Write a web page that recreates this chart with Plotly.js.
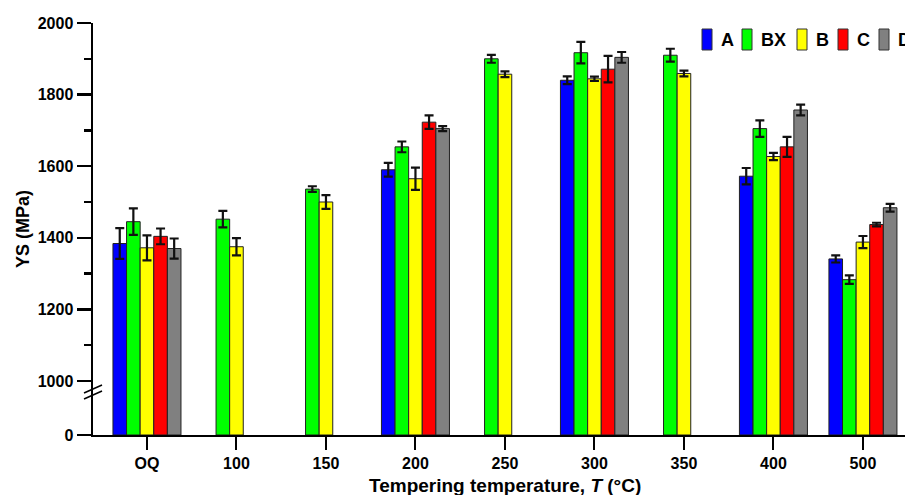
<!DOCTYPE html>
<html>
<head>
<meta charset="utf-8">
<script src="https://cdn.plot.ly/plotly-3.0.1.min.js"></script>
<style>
  html, body { margin: 0; padding: 0; background: #fff; }
  #chart { width: 905px; height: 495px; }
</style>
</head>
<body>
<div id="chart"></div>
<script>
// Yield strength (MPa) of each steel after tempering at different temperatures.
const categories = ['OQ', '100', '150', '200', '250', '300', '350', '400', '500'];

const seriesNames = ['A', 'BX', 'B', 'C', 'D'];
const seriesColors = ['#0000ff', '#00ff00', '#ffff00', '#ff0000', '#808080'];

const ysA  = [1384, null, null, 1590, null, 1840, null, 1572, 1341];
const errA = [43, null, null, 19, null, 11, null, 23, 10];

const ysBX  = [1445, 1452, 1536, 1654, 1900, 1917, 1910, 1705, 1283];
const errBX = [37, 23, 8, 15, 11, 30, 18, 23, 12];

const ysB  = [1372, 1375, 1500, 1565, 1857, 1844, 1859, 1627, 1388];
const errB = [35, 24, 19, 31, 8, 6, 8, 10, 17];

const ysC  = [1404, null, null, 1723, null, 1871, null, 1654, 1437];
const errC = [22, null, null, 19, null, 37, null, 28, 5];

const ysD  = [1370, null, null, 1705, null, 1904, null, 1757, 1484];
const errD = [28, null, null, 7, null, 15, null, 15, 11];

const yTickVals = [1000, 1200, 1400, 1600, 1800, 2000];

const seriesValues = [ysA, ysBX, ysB, ysC, ysD];
const seriesErrors = [errA, errBX, errB, errC, errD];

// Broken value axis: a short lower band holding the zero baseline,
// and the main band from just below 1000 up to 2000.
const BREAK = 0.1068;
const FONT = 'Arial, "Liberation Sans", sans-serif';

const traces = [];
seriesNames.forEach((name, i) => {
  const common = {
    type: 'bar',
    name: name,
    x: categories,
    y: seriesValues[i],
    marker: { color: seriesColors[i], line: { color: '#222', width: 1 } },
    showlegend: false,
    hoverinfo: 'x+y+name'
  };
  // lower band (baseline part of each bar)
  traces.push(Object.assign({}, common, { xaxis: 'x', yaxis: 'y' }));
  // upper band with the error bars
  traces.push(Object.assign({}, common, {
    xaxis: 'x', yaxis: 'y2',
    error_y: { type: 'data', array: seriesErrors[i], visible: true,
               color: '#111', thickness: 2.2, width: 4.5 }
  }));
});

// Legend drawn as swatches + labels along the top right.
const plotL = 93, plotW = 812, plotB = 435, plotH = 412;
const px2x = p => (p - plotL) / plotW;
const px2y = p => (plotB - p) / plotH;
const legendLeft = [702, 742, 797, 838, 879];

const shapes = [];
const annotations = [];
seriesNames.forEach((name, i) => {
  shapes.push({
    type: 'rect', xref: 'paper', yref: 'paper',
    x0: px2x(legendLeft[i]), x1: px2x(legendLeft[i] + 10),
    y0: px2y(50), y1: px2y(29),
    fillcolor: seriesColors[i], line: { color: '#333', width: 1 }
  });
  annotations.push({
    xref: 'paper', yref: 'paper', x: px2x(legendLeft[i] + 17), y: px2y(40),
    xanchor: 'left', yanchor: 'middle', showarrow: false, text: name,
    font: { family: FONT, size: 18, color: '#000', weight: 'bold' }
  });
});

// axis-break slashes
[[393, 385], [399, 391]].forEach(([ya, yb]) => {
  shapes.push({
    type: 'line', xref: 'paper', yref: 'paper',
    x0: px2x(84), y0: px2y(ya), x1: px2x(102), y1: px2y(yb),
    line: { color: '#000', width: 1.6 }
  });
});

// axis titles
annotations.push({
  xref: 'paper', yref: 'paper', x: px2x(23), y: 0.5,
  xanchor: 'center', yanchor: 'middle', textangle: -90, showarrow: false,
  text: 'YS (MPa)',
  font: { family: FONT, size: 18, color: '#000', weight: 'bold' }
});
annotations.push({
  xref: 'paper', yref: 'paper', x: px2x(505), y: px2y(485),
  xanchor: 'center', yanchor: 'middle', showarrow: false,
  text: 'Tempering temperature, <i>T</i> (°C)',
  font: { family: FONT, size: 19, color: '#000', weight: 'bold' }
});

const tickFont = { family: FONT, size: 16, color: '#000', weight: 'bold' };

const layout = {
  width: 905, height: 495, autosize: false,
  margin: { l: 93, r: 0, t: 23, b: 60 },
  paper_bgcolor: '#fff', plot_bgcolor: '#fff',
  font: { family: FONT, color: '#000' },
  barmode: 'group', bargap: 0.24, bargroupgap: 0,
  xaxis: {
    type: 'category', range: [-0.603, 8.47], anchor: 'y',
    showline: true, linecolor: '#000', linewidth: 2,
    ticks: 'outside', ticklen: 13, tickwidth: 2, tickcolor: '#000',
    showgrid: false, zeroline: false,
    tickfont: tickFont
  },
  yaxis: {
    domain: [0, BREAK], range: [0, 123], anchor: 'x',
    tickmode: 'array', tickvals: [0],
    showline: true, linecolor: '#000', linewidth: 2.5,
    ticks: 'outside', ticklen: 14, tickwidth: 2.5, tickcolor: '#000',
    showgrid: false, zeroline: false,
    tickfont: tickFont
  },
  yaxis2: {
    domain: [BREAK, 1], range: [972, 2000], anchor: 'x',
    tickmode: 'array', tickvals: yTickVals,
    showline: true, linecolor: '#000', linewidth: 2.5,
    ticks: 'outside', ticklen: 14, tickwidth: 2.5, tickcolor: '#000',
    minor: { dtick: 100, ticks: 'outside', ticklen: 7, tickwidth: 2.5, tickcolor: '#000', showgrid: false },
    showgrid: false, zeroline: false,
    tickfont: tickFont
  },
  shapes: shapes,
  annotations: annotations
};

Plotly.newPlot('chart', traces, layout, { displayModeBar: false, staticPlot: true });
</script>
</body>
</html>
